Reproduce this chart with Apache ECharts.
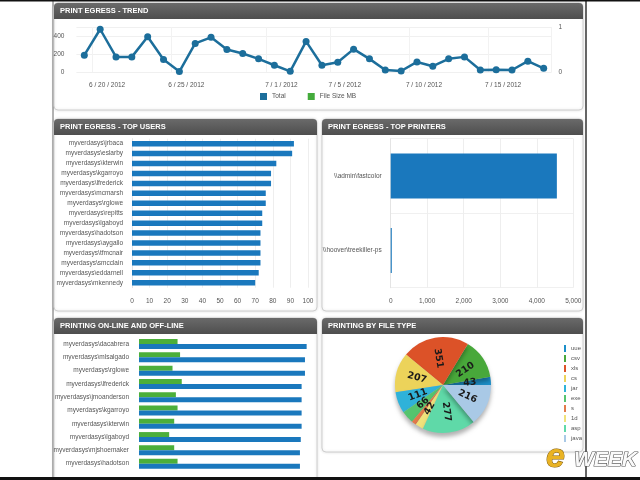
<!DOCTYPE html>
<html>
<head>
<meta charset="utf-8">
<script src="https://cdn.jsdelivr.net/npm/echarts@6/dist/echarts.min.js"></script>
<style>
html, body { margin: 0; padding: 0; background: #fff; }
#main { width: 640px; height: 480px; }
</style>
</head>
<body>
<div id="main"></div>
<script>
// 趋势数据
var trendDates = ['6 / 19 / 2012', '6 / 20 / 2012', '6 / 21 / 2012', '6 / 22 / 2012', '6 / 23 / 2012',
  '6 / 24 / 2012', '6 / 25 / 2012', '6 / 26 / 2012', '6 / 27 / 2012', '6 / 28 / 2012',
  '6 / 29 / 2012', '6 / 30 / 2012', '7 / 1 / 2012', '7 / 2 / 2012', '7 / 3 / 2012',
  '7 / 4 / 2012', '7 / 5 / 2012', '7 / 6 / 2012', '7 / 7 / 2012', '7 / 8 / 2012',
  '7 / 9 / 2012', '7 / 10 / 2012', '7 / 11 / 2012', '7 / 12 / 2012', '7 / 13 / 2012',
  '7 / 14 / 2012', '7 / 15 / 2012', '7 / 16 / 2012', '7 / 17 / 2012', '7 / 18 / 2012'];
var trendTicks = ['6 / 20 / 2012', '6 / 25 / 2012', '7 / 1 / 2012', '7 / 5 / 2012', '7 / 10 / 2012', '7 / 15 / 2012'];
var trendTotal = [187, 475, 168, 168, 392, 138, 5, 318, 385, 250, 206, 146, 75, 7, 340,
  75, 108, 254, 146, 22, 11, 112, 64, 146, 168, 22, 26, 22, 120, 41];
var trendFileSize = [];

// top users
var userNames = ['myverdasys\\jrbaca', 'myverdasys\\eslarby', 'myverdasys\\kterwin', 'myverdasys\\kgarroyo',
  'myverdasys\\lfrederick', 'myverdasys\\mcmarsh', 'myverdasys\\rglowe', 'myverdasys\\repitts',
  'myverdasys\\lgaboyd', 'myverdasys\\hadotson', 'myverdasys\\aygallo', 'myverdasys\\tfmcnair',
  'myverdasys\\smcclain', 'myverdasys\\eddarnell', 'myverdasys\\mkennedy'];
var userCounts = [92, 91, 82, 79, 79, 76, 76, 74, 74, 73, 73, 73, 73, 72, 70];

// top printers
var printerNames = ['\\\\admin\\fastcolor', '\\\\hoover\\treekiller-ps'];
var printerCounts = [4550, 30];

// on-line / off-line
var lineUsers = ['myverdasys\\dacabrera', 'myverdasys\\mlsalgado', 'myverdasys\\rglowe', 'myverdasys\\lfrederick',
  'myverdasys\\jmoanderson', 'myverdasys\\kgarroyo', 'myverdasys\\kterwin', 'myverdasys\\lgaboyd',
  'myverdasys\\mjshoemaker', 'myverdasys\\hadotson'];
var offlineCounts = [23, 24.5, 20, 25.5, 22, 23, 21, 18, 21, 23];
var onlineCounts = [100, 99, 99, 97, 97, 97, 97, 96.5, 96, 96];

// file type
var fileTypes = ['uue', 'csv', 'xls', 'cs', 'jar', 'exe', 's', '1d', 'asp', 'java'];
var fileCounts = [43, 210, 351, 207, 111, 66, 25, 42, 277, 216];

var fileColors = ['#1b8fc9', '#48a83a', '#dc5228', '#ecd35a', '#2fb2d9', '#55c46e', '#e27a4a', '#f0e27a', '#5fd9a8', '#a9c9e6'];
var blue = '#1a78bd';
var font = 'Liberation Sans';
var labelStyle = { fontSize: 6.5, color: '#555', fontFamily: font };

// 面板
var panels = [
  { x: 54, y: 3, w: 529, h: 107, title: 'PRINT EGRESS - TREND' },
  { x: 54, y: 119, w: 263, h: 192, title: 'PRINT EGRESS - TOP USERS' },
  { x: 322, y: 119, w: 261, h: 192, title: 'PRINT EGRESS - TOP PRINTERS' },
  { x: 54, y: 318, w: 263, h: 175, title: 'PRINTING ON-LINE AND OFF-LINE' },
  { x: 322, y: 318, w: 261, h: 134, title: 'PRINTING BY FILE TYPE' }
];

var graphics = [
  { type: 'line', shape: { x1: 53, y1: 0, x2: 53, y2: 480 }, style: { stroke: '#666', lineWidth: 1 }, z: -5 },
  { type: 'line', shape: { x1: 586, y1: 0, x2: 586, y2: 480 }, style: { stroke: '#333', lineWidth: 1.5 }, z: -5 },
  { type: 'rect', shape: { x: 0, y: 0, width: 640, height: 1.5 }, style: { fill: '#111' }, z: 50 },
  { type: 'rect', shape: { x: 0, y: 477, width: 640, height: 3 }, style: { fill: '#111' }, z: 50 }
];
var titles = [];
panels.forEach(function (p) {
  graphics.push({
    type: 'rect', z: -4,
    shape: { x: p.x, y: p.y, width: p.w, height: p.h, r: 4 },
    style: { fill: '#fff', stroke: '#cfcfcf', lineWidth: 1, shadowBlur: 3, shadowColor: 'rgba(0,0,0,0.12)' }
  });
  graphics.push({
    type: 'rect', z: -3,
    shape: { x: p.x, y: p.y, width: p.w, height: 16, r: [4, 4, 0, 0] },
    style: {
      fill: new echarts.graphic.LinearGradient(0, 0, 0, 1, [
        { offset: 0, color: '#6a6a6a' }, { offset: 1, color: '#4e4e4e' }
      ])
    }
  });
  titles.push({
    text: p.title, left: p.x + 6, top: p.y + 4, padding: 0,
    textStyle: { color: '#fff', fontSize: 7.5, fontWeight: 'bold', fontFamily: font }
  });
});

// eWEEK 水印
graphics.push({ type: 'text', z: 60, x: 546, y: 441,
  style: { text: 'e', font: 'italic bold 34px "Liberation Sans"', fill: '#e9b324', stroke: '#7a5508', lineWidth: 1,
    shadowBlur: 3, shadowColor: 'rgba(0,0,0,0.5)' } });
graphics.push({ type: 'text', z: 60, x: 574, y: 450,
  style: { text: 'WEEK', font: 'italic bold 21px "Liberation Sans"', fill: '#fafafa', stroke: '#555', lineWidth: 1.2,
    shadowBlur: 3, shadowColor: 'rgba(0,0,0,0.6)' } });

var chart = echarts.init(document.getElementById('main'), null, { renderer: 'canvas' });

var option = {
  animation: false,
  backgroundColor: '#fff',
  title: titles,
  graphic: graphics,
  legend: [
    {
      data: ['Total', 'File Size MB'], left: 260, top: 93, itemWidth: 7, itemHeight: 7, itemGap: 22,
      icon: 'rect', textStyle: labelStyle, padding: 0
    },
    {
      data: fileTypes, orient: 'vertical', left: 564, top: 345, itemWidth: 2, itemHeight: 7, itemGap: 3,
      icon: 'rect', textStyle: { fontSize: 6, color: '#555', fontFamily: font }, padding: 0
    }
  ],
  grid: [
    { left: 76.4, right: 88.4, top: 27, bottom: 408, outerBoundsMode: 'none' },
    { left: 132, right: 332, top: 138.7, bottom: 192.3, outerBoundsMode: 'none' },
    { left: 390.7, right: 66.7, top: 138.7, bottom: 192.3, outerBoundsMode: 'none' },
    { left: 139, right: 330, top: 337.4, bottom: 9.7, outerBoundsMode: 'none' }
  ],
  xAxis: [
    {
      gridIndex: 0, type: 'category', data: trendDates, boundaryGap: true,
      axisLine: { show: false }, axisTick: { show: false },
      axisLabel: Object.assign({}, labelStyle, {
        margin: 10, padding: [0, 0, 0, 14],
        interval: function (i, v) { return trendTicks.indexOf(v) >= 0; }
      }),
      splitLine: { show: true, lineStyle: { color: '#f2f2f2' },
        interval: function (i, v) { return trendTicks.indexOf(v) >= 0; } }
    },
    {
      gridIndex: 1, type: 'value', min: 0, max: 100, interval: 10,
      axisLine: { show: false }, axisTick: { show: false },
      axisLabel: Object.assign({}, labelStyle, { margin: 10 }),
      splitLine: { lineStyle: { color: '#eeeeee' } }
    },
    {
      gridIndex: 2, type: 'value', min: 0, max: 5000, interval: 1000,
      axisLine: { show: false }, axisTick: { show: false },
      axisLabel: Object.assign({}, labelStyle, { margin: 10,
        formatter: function (v) { return v.toLocaleString('en-US'); } }),
      splitLine: { lineStyle: { color: '#eeeeee' } }
    },
    {
      gridIndex: 3, type: 'value', min: 0, max: 102, show: false
    }
  ],
  yAxis: [
    {
      gridIndex: 0, type: 'value', min: 0, max: 500, interval: 200,
      axisLine: { show: false }, axisTick: { show: false },
      axisLabel: Object.assign({}, labelStyle, { margin: 12,
        formatter: function (v) { return v === 500 ? '' : v; } }),
      splitLine: { lineStyle: { color: '#f0f0f0' } }
    },
    {
      gridIndex: 0, type: 'value', min: 0, max: 1, interval: 1, position: 'right',
      axisLine: { show: false }, axisTick: { show: false },
      axisLabel: Object.assign({}, labelStyle, { margin: 7 }),
      splitLine: { show: false }
    },
    {
      gridIndex: 1, type: 'category', data: userNames, inverse: true,
      axisLine: { show: true, lineStyle: { color: '#e4e4e4' } }, axisTick: { show: false },
      axisLabel: Object.assign({}, labelStyle, { margin: 9, interval: 0 })
    },
    {
      gridIndex: 2, type: 'category', data: printerNames, inverse: true,
      axisLine: { show: true, lineStyle: { color: '#e4e4e4' } }, axisTick: { show: false },
      axisLabel: Object.assign({}, labelStyle, { margin: 9 }),
      splitLine: { show: true, lineStyle: { color: '#f0f0f0' } }
    },
    {
      gridIndex: 3, type: 'category', data: lineUsers, inverse: true,
      axisLine: { show: false }, axisTick: { show: false },
      axisLabel: Object.assign({}, labelStyle, { margin: 10, interval: 0 })
    }
  ],
  series: [
    {
      name: 'Total', type: 'line', xAxisIndex: 0, yAxisIndex: 0, data: trendTotal,
      color: '#1c6e9b', symbol: 'circle', symbolSize: 7,
      lineStyle: { width: 2.5, color: '#1c6e9b' }, itemStyle: { color: '#1c6e9b' }
    },
    {
      name: 'File Size MB', type: 'line', xAxisIndex: 0, yAxisIndex: 1, data: trendFileSize,
      color: '#44ab3c', itemStyle: { color: '#44ab3c' }
    },
    {
      name: 'Top Users', type: 'bar', xAxisIndex: 1, yAxisIndex: 2, data: userCounts,
      barWidth: 5.5, itemStyle: { color: blue }
    },
    {
      name: 'Top Printers', type: 'bar', xAxisIndex: 2, yAxisIndex: 3, data: printerCounts,
      barWidth: 45, itemStyle: { color: blue }
    },
    {
      name: 'Off-line', type: 'bar', xAxisIndex: 3, yAxisIndex: 4, data: offlineCounts,
      barWidth: 5, barGap: '0%', itemStyle: { color: '#4caf3a' }
    },
    {
      name: 'On-line', type: 'bar', xAxisIndex: 3, yAxisIndex: 4, data: onlineCounts,
      barWidth: 5, barGap: '0%', itemStyle: { color: blue }
    },
    {
      name: 'File Type', type: 'pie', center: [443, 385], radius: 48,
      startAngle: 0, clockwise: false, avoidLabelOverlap: false,
      color: fileColors,
      itemStyle: { shadowBlur: 4, shadowOffsetY: 4, shadowColor: 'rgba(0,0,0,0.3)' },
      label: {
        show: true, position: 'inside', rotate: 'radial',
        formatter: function (p) { return p.name === 's' ? '' : p.value; },
        fontSize: 9.5, fontWeight: 'bold', color: '#1a1a1a', fontFamily: 'DejaVu Sans'
      },
      labelLayout: { hideOverlap: false },
      labelLine: { show: false },
      data: fileTypes.map(function (t, i) { return { name: t, value: fileCounts[i] }; })
    }
  ]
};

chart.setOption(option);
</script>
</body>
</html>
